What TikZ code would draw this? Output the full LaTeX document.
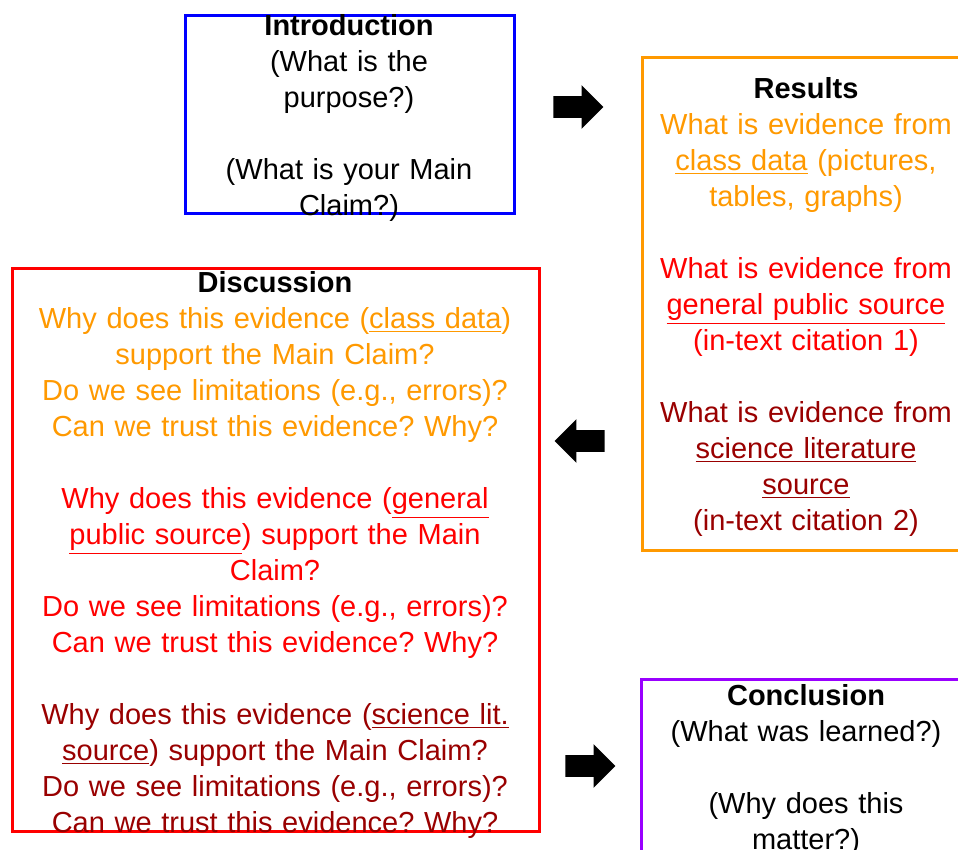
\documentclass[tikz,border=0pt]{standalone}
\usepackage{fontspec}
\setmainfont{Liberation Sans}
\usepackage{tikz}
\usetikzlibrary{shapes.arrows}
\frenchspacing

\definecolor{introblue}{HTML}{0000FF}
\definecolor{respurple}{HTML}{9900FF}
\definecolor{resorange}{HTML}{FF9900}
\definecolor{resred}{HTML}{FF0000}
\definecolor{resdark}{HTML}{990000}

\tikzset{
  part/.style={draw=#1,line width=1.5bp,inner sep=0},
  parttext/.style={anchor=north,align=center,text width=#1,inner sep=0,font=\fontsize{14.5bp}{18bp}\selectfont},
  bigarrow/.style={single arrow,fill=black,inner xsep=0,inner ysep=5.25bp,minimum height=25bp,minimum width=21.5bp,single arrow head extend=5.5bp}
}

\begin{document}
\begin{tikzpicture}
\useasboundingbox (0bp,0bp) rectangle (479bp,-425bp);

\node (intro) at (174.75bp,-57bp)[part=introblue,minimum width=164.5bp,minimum height=99bp] {};
\node (results) at (403bp,-151.75bp)[part=resorange,minimum width=164bp,minimum height=246.5bp] {};
\node (discussion) at (137.75bp,-274.75bp)[part=resred,minimum width=263.5bp,minimum height=281.5bp] {};
\node (conclusion) at (402.75bp,-385.75bp)[part=respurple,minimum width=164.5bp,minimum height=92.5bp] {};

\node (introtext) at (174.5bp,-7bp)[parttext=160bp] {\textbf{Introduction}\\ (What is the\\ purpose?)\\[18bp] (What is your Main\\ Claim?)};
\node (resultstext) at (403bp,-38.4bp)[parttext=160bp] {\textbf{Results}\\
  {\color{resorange}What is evidence from\\ \underline{class data} (pictures,\\ tables, graphs)}\\[18bp]
  {\color{resred}What is evidence from\\ \underline{general public source}\\ (in-text citation 1)}\\[18bp]
  {\color{resdark}What is evidence from\\ \underline{science literature}\\ \underline{source}\\ (in-text citation 2)}};
\node (discussiontext) at (137.5bp,-135.6bp)[parttext=260bp] {\textbf{Discussion}\\
  {\color{resorange}Why does this evidence (\underline{class data})\\ support the Main Claim?\\ Do we see limitations (e.g., errors)?\\ Can we trust this evidence? Why?}\\[18bp]
  {\color{resred}Why does this evidence (\underline{general}\\ \underline{public source}) support the Main\\ Claim?\\ Do we see limitations (e.g., errors)?\\ Can we trust this evidence? Why?}\\[18bp]
  {\color{resdark}Why does this evidence (\underline{science lit.}\\ \underline{source}) support the Main Claim?\\ Do we see limitations (e.g., errors)?\\ Can we trust this evidence? Why?}};
\node (conclusiontext) at (403bp,-342bp)[parttext=160bp] {\textbf{Conclusion}\\ (What was learned?)\\[18bp] (Why does this\\ matter?)};

\node (arrowA) at (286.5bp,-53.5bp)[bigarrow] {};
\node (arrowB) at (292.5bp,-220.5bp)[bigarrow,shape border rotate=180] {};
\node (arrowC) at (292.5bp,-383bp)[bigarrow] {};
\end{tikzpicture}
\end{document}
